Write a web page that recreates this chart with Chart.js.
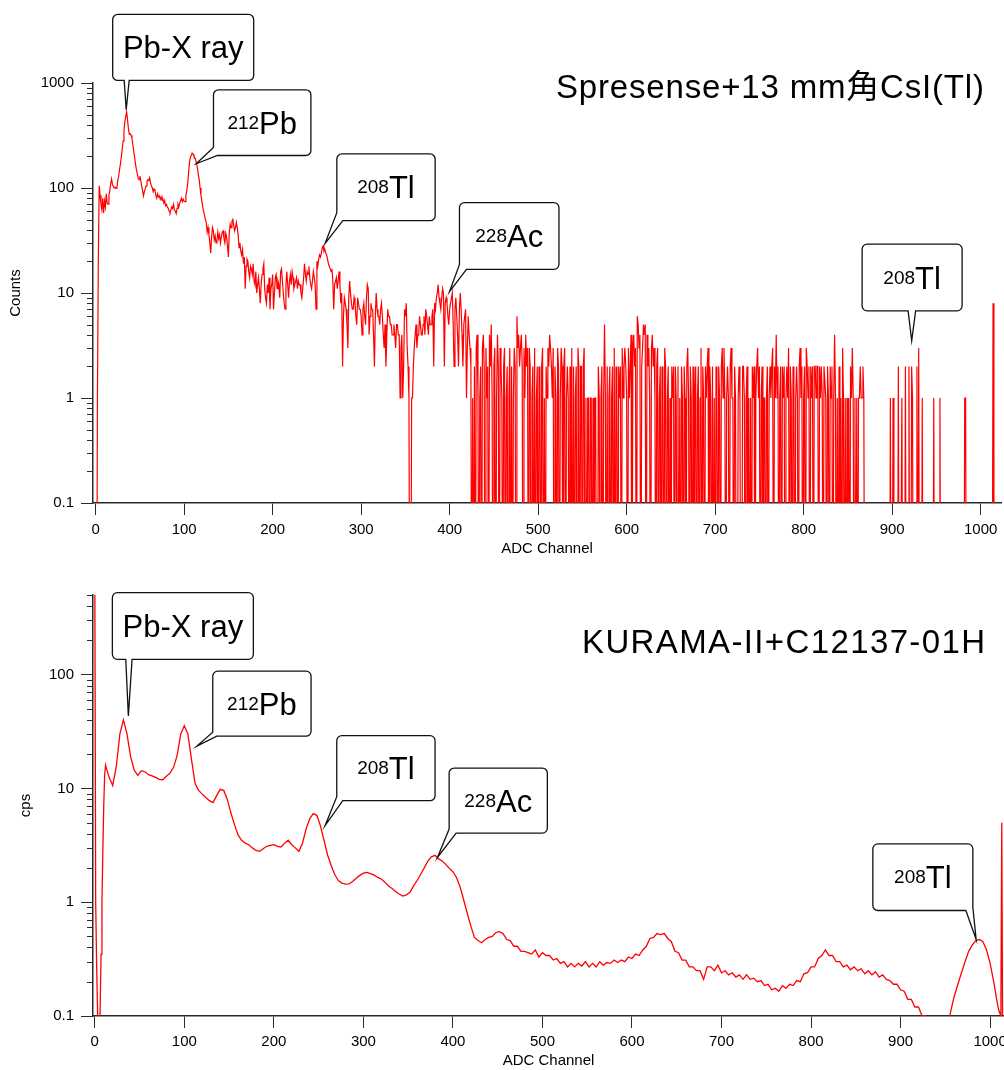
<!DOCTYPE html>
<html>
<head>
<meta charset="utf-8">
<script src="https://cdn.jsdelivr.net/npm/chart.js@4.4.0/dist/chart.umd.min.js"></script>
<style>
  body { margin: 0; background: #fff; }
  canvas { position: absolute; left: 0; }
  #spresense { top: 0; }
  #kurama { top: 560px; }
</style>
</head>
<body>
<canvas id="spresense" width="1004" height="560"></canvas>
<canvas id="kurama" width="1004" height="510"></canvas>
<script>
// Spresense + CsI(Tl): counts per ADC channel, index = channel 0..1023
const spresenseCounts = [
  0,0,1,20,105,85,70,62,80,58,
  75,66,88,72,70,85,95,110,122,108,
  104,100,102,99,101,118,130,150,170,195,
  235,280,350,430,480,530,450,370,325,330,
  318,300,260,225,195,170,150,138,125,120,
  130,118,105,95,84,92,98,105,115,120,
  118,125,112,105,100,92,98,95,85,80,
  88,82,84,78,82,76,78,72,76,68,
  70,66,64,60,58,62,66,64,70,62,
  60,57,64,70,66,72,76,80,74,78,
  75,74,85,95,110,140,175,195,205,215,
  210,200,195,185,170,155,135,120,100,85,
  75,66,60,55,50,47,38,42,36,30,
  24,34,42,39,32,35,30,31,38,33,
  36,30,34,38,39,33,30,37,34,28,
  22,38,45,42,48,50,44,39,42,47,
  42,36,27,30,25,23,26,19,22,11,
  18,21,20,16,14,18,17,15,19,13,
  12,16,10,12,14,11,8,12,15,17,
  19,11,9,8,12,10,14,7,11,12,
  15,7,10,14,15,11,13,12,9,16,
  17,13,10,8,7,12,16,12,9,13,
  15,12,16,14,11,12,13,14,11,13,
  12,12,10,9,11,14,19,15,13,16,
  15,18,14,12,11,13,16,14,12,7,
  20,18,21,23,22,24,27,28,25,26,
  24,23,21,19,18,17,16,17,13,7,
  12,13,14,11,13,16,12,8,10,2,
  6,9,8,7,5,3,9,13,10,8,
  7,7,9,8,6,5,9,8,7,7,
  6,4,7,8,6,5,9,12,11,4,
  6,8,7,7,4,2,6,10,7,6,
  6,5,7,8,6,4,3,5,2,4,
  7,6,6,5,5,4,4,5,4,3,
  5,5,4,4,1,3,4,1,2,7,
  6,8,3,2,1,0,0,1,1,2,
  3,4,5,3,4,4,6,5,4,4,
  5,6,4,7,6,5,4,6,5,5,
  6,7,2,8,7,9,10,12,9,8,
  7,9,11,10,2,8,9,8,6,5,
  7,8,9,10,5,2,7,9,6,4,
  2,7,10,7,4,2,5,6,7,1,
  3,6,4,3,2,0,1,0,2,0,
  3,4,1,0,1,2,0,3,4,2,
  0,3,1,2,0,4,2,5,1,0,
  2,3,0,1,4,2,0,3,2,1,
  0,2,3,0,1,2,0,1,3,0,
  2,0,1,3,2,0,6,3,4,2,
  3,4,2,0,3,1,4,2,3,0,
  3,2,0,1,2,0,3,0,1,2,
  0,2,1,0,2,3,0,1,0,2,
  1,3,2,4,3,2,1,3,0,2,
  1,0,3,2,0,1,3,2,0,2,
  3,0,1,2,1,0,2,0,3,0,
  2,0,1,2,0,3,2,0,2,2,
  0,2,3,0,1,0,1,1,0,1,
  1,0,1,0,1,1,0,0,2,1,
  0,1,2,0,1,5,1,0,2,0,
  1,2,0,1,2,0,3,0,2,1,
  0,2,1,2,0,3,1,2,3,2,
  1,0,3,1,2,4,0,3,4,2,
  3,0,6,5,3,4,0,2,3,5,
  4,5,0,4,2,3,1,0,3,4,
  2,3,1,0,2,3,0,1,2,0,
  2,1,0,3,2,0,1,2,0,1,
  0,2,1,2,0,2,1,0,2,0,
  1,0,2,1,0,2,1,0,2,3,
  1,0,2,1,0,2,0,1,2,0,
  1,2,0,1,3,0,2,1,0,2,
  1,2,3,0,2,1,0,2,0,1,
  0,2,1,0,2,1,0,2,3,1,
  3,1,0,1,2,1,0,2,3,1,
  1,0,2,1,0,0,1,2,1,0,
  0,2,2,1,0,1,2,0,1,0,
  1,0,2,1,2,0,1,2,3,1,
  2,0,1,2,0,1,1,0,1,2,
  0,1,2,1,2,3,0,2,1,4,
  1,2,0,1,2,0,2,1,2,0,
  1,2,1,3,0,2,1,0,2,1,
  0,1,2,1,0,2,3,1,2,0,
  1,2,0,3,2,1,2,0,2,1,
  2,0,2,2,1,2,2,0,2,1,
  2,1,0,2,2,1,0,2,1,0,
  2,1,2,0,1,4,1,0,1,0,
  2,0,1,0,3,1,0,1,0,1,
  0,1,0,2,1,3,1,0,1,0,
  1,0,1,1,2,1,1,2,1,0,
  0,0,0,0,0,0,0,0,0,0,
  0,0,0,0,0,0,0,0,0,0,
  0,0,0,0,0,0,0,0,1,0,
  0,1,0,0,0,0,0,2,0,0,
  0,1,0,0,0,2,0,0,0,2,
  0,0,2,1,0,0,0,0,2,0,
  3,0,0,0,1,0,0,0,0,0,
  0,0,0,0,0,0,0,1,0,0,
  0,0,0,0,1,0,0,0,0,0,
  0,0,0,0,0,0,0,0,0,0,
  0,0,0,0,0,0,0,0,0,0,
  0,0,1,1,0,0,0,0,0,0,
  0,0,0,0,0,0,0,0,0,0,
  0,0,0,0,0,0,0,0,0,0,
  0,0,0,0,8,0,0,0,0,0,
  0,0,0,0
];

// KURAMA-II + C12137-01H: cps read at these channels
const kuramaChannels = [
  0,1,2,3,4,5,6,7,8,9,10,11,12,
  16,20,24,28,32,36,40,44,48,52,
  56,60,64,68,72,76,80,84,88,92,
  96,100,104,108,112,116,120,124,128,132,
  136,140,144,148,152,156,160,164,168,172,
  176,180,184,188,192,196,200,204,208,212,
  216,220,224,228,232,236,240,244,248,252,
  256,260,264,268,272,276,280,284,288,292,
  296,300,304,308,312,316,320,324,328,332,
  336,340,344,348,352,356,360,364,368,372,
  376,380,384,388,392,396,400,404,408,412,
  416,420,424,428,432,436,440,444,448,452,
  456,460,464,468,472,476,480,484,488,492,
  496,500,504,508,512,516,520,524,528,532,
  536,540,544,548,552,556,560,564,568,572,
  576,580,584,588,592,596,600,604,608,612,
  616,620,624,628,632,636,640,644,648,652,
  656,660,664,668,672,676,680,684,688,692,
  696,700,704,708,712,716,720,724,728,732,
  736,740,744,748,752,756,760,764,768,772,
  776,780,784,788,792,796,800,804,808,812,
  816,820,824,828,832,836,840,844,848,852,
  856,860,864,868,872,876,880,884,888,892,
  896,900,904,908,912,916,920,924,928,932,
  936,940,944,948,952,956,960,964,968,972,
  976,980,984,988,992,996,1000,1004,1008,
  1010,1012,1013,1014,1015
];
const kuramaCps = [
  900,1.0,0.3,0.12,0.05,0.05,0.12,0.35,1.0,2.8,7,13,16,
  12.5,10.6,15.5,30,40,30,19,14.5,13,14.3,
  14,13.2,12.9,12.5,12,11.9,12.8,13.6,15.3,19.5,
  30,35.5,30,18,11,9.6,8.9,8.3,7.8,7.5,
  8.6,9.8,9.6,8,6.1,4.8,3.9,3.5,3.3,3.2,
  3.0,2.85,2.8,2.95,3.1,3.15,3.2,3.1,3.05,3.3,
  3.5,3.2,3.0,2.8,3.3,4.4,5.4,6.0,5.8,4.7,
  3.5,2.6,2.1,1.75,1.55,1.47,1.44,1.45,1.52,1.62,
  1.72,1.8,1.83,1.78,1.73,1.65,1.6,1.5,1.39,1.32,
  1.24,1.18,1.13,1.16,1.22,1.39,1.55,1.76,2.0,2.3,
  2.5,2.58,2.4,2.3,2.15,1.98,1.85,1.65,1.36,1.05,
  0.8,0.62,0.49,0.46,0.44,0.47,0.49,0.5,0.54,0.55,
  0.53,0.47,0.46,0.41,0.41,0.37,0.37,0.36,0.35,0.38,
  0.33,0.36,0.34,0.34,0.31,0.32,0.29,0.3,0.27,0.29,
  0.27,0.29,0.275,0.3,0.27,0.29,0.27,0.3,0.28,0.295,
  0.29,0.31,0.295,0.31,0.3,0.33,0.32,0.35,0.34,0.38,
  0.41,0.48,0.49,0.53,0.52,0.53,0.48,0.45,0.37,0.36,
  0.31,0.31,0.27,0.27,0.25,0.25,0.21,0.27,0.27,0.25,
  0.28,0.24,0.25,0.23,0.24,0.22,0.23,0.21,0.23,0.21,
  0.215,0.2,0.205,0.185,0.19,0.17,0.175,0.165,0.185,0.175,
  0.19,0.185,0.205,0.2,0.235,0.24,0.27,0.27,0.32,0.34,
  0.38,0.34,0.34,0.3,0.3,0.27,0.28,0.255,0.27,0.25,
  0.26,0.235,0.25,0.23,0.245,0.22,0.23,0.21,0.205,0.19,
  0.19,0.17,0.165,0.14,0.14,0.12,0.12,0.1,0.1,0.09,
  0.075,0.06,0.055,0.06,0.08,0.11,0.15,0.19,0.24,0.3,
  0.37,0.42,0.46,0.47,0.45,0.38,0.29,0.2,0.13,
  0.11,0.1,5,0.05,0.05
];

const channelTicks = [0, 100, 200, 300, 400, 500, 600, 700, 800, 900, 1000];
const countTicks = [0.1, 1, 10, 100, 1000];
const cpsTicks = [0.1, 1, 10, 100];

const FONT = "'Liberation Sans', Arial, 'Noto Sans CJK JP', sans-serif";
const AXIS = '#2a2a2a';
const RED = '#ff0000';
const ZERO = 1e-3; // empty channels drop below the log axis

// minor log ticks (2..9) on the y axis
const minorTicks = {
  id: 'minorTicks',
  afterDraw(chart) {
    const y = chart.scales.y;
    const ctx = chart.ctx;
    ctx.save();
    ctx.strokeStyle = AXIS;
    ctx.lineWidth = 1;
    for (let e = Math.floor(Math.log10(y.min)); e < Math.log10(y.max); e++) {
      for (let m = 2; m < 10; m++) {
        const v = m * Math.pow(10, e);
        if (v < y.min * 0.999 || v > y.max * 1.001) continue;
        const py = Math.round(y.getPixelForValue(v)) + 0.5;
        ctx.beginPath();
        ctx.moveTo(y.right - 6, py);
        ctx.lineTo(y.right, py);
        ctx.stroke();
      }
    }
    ctx.restore();
  }
};

// speech-bubble labels and the title text
const callouts = {
  id: 'callouts',
  afterDatasetsDraw(chart, args, opts) {
    const ctx = chart.ctx;
    const xs = chart.scales.x, ys = chart.scales.y;
    ctx.save();
    opts.items.forEach(c => {
      const tx = xs.getPixelForValue(c.at[0]);
      const ty = ys.getPixelForValue(c.at[1]);
      const L = tx + c.box[0], T = ty + c.box[1];
      const R = L + c.box[2], B = T + c.box[3], r = 5;
      const kind = c.tail[0];
      ctx.beginPath();
      ctx.moveTo(L + r, T);
      ctx.arcTo(R, T, R, B, r);
      if (kind === 'br') {
        ctx.lineTo(R, B - c.tail[1]);
        ctx.lineTo(tx, ty);
        ctx.lineTo(R - c.tail[2], B);
      } else {
        ctx.arcTo(R, B, L, B, r);
      }
      if (kind === 'b') {
        ctx.lineTo(L + c.tail[2], B);
        ctx.lineTo(tx, ty);
        ctx.lineTo(L + c.tail[1], B);
      }
      if (kind === 'bl') {
        ctx.lineTo(L + c.tail[2], B);
        ctx.lineTo(tx, ty);
        ctx.lineTo(L, B - c.tail[1]);
      } else {
        ctx.arcTo(L, B, L, T, r);
      }
      ctx.arcTo(L, T, R, T, r);
      ctx.closePath();
      ctx.fillStyle = '#fff';
      ctx.fill();
      ctx.strokeStyle = '#111';
      ctx.lineWidth = 1.3;
      ctx.stroke();

      // text: [string, isSuperscript]
      const fonts = c.text.map(p => (p[1] ? '19px ' : '31px ') + FONT);
      const widths = c.text.map((p, i) => { ctx.font = fonts[i]; return ctx.measureText(p[0]).width; });
      const total = widths.reduce((a, b) => a + b, 0);
      let x = (L + R) / 2 - total / 2;
      const base = (T + B) / 2 + 11;
      ctx.fillStyle = '#000';
      ctx.textAlign = 'left';
      ctx.textBaseline = 'alphabetic';
      c.text.forEach((p, i) => {
        ctx.font = fonts[i];
        ctx.fillText(p[0], x, p[1] ? base - 5 : base);
        x += widths[i];
      });
    });

    const t = opts.title;
    ctx.font = '33px ' + FONT;
    ctx.fillStyle = '#000';
    ctx.textAlign = 'left';
    ctx.textBaseline = 'alphabetic';
    const w = ctx.measureText(t.text).width;
    const spacing = (t.width - w) / (t.text.length - 1);
    if ('letterSpacing' in ctx) {
      ctx.letterSpacing = spacing + 'px';
      ctx.fillText(t.text, t.right - t.width, t.y);
      ctx.letterSpacing = '0px';
    } else {
      ctx.fillText(t.text, t.right - w, t.y);
    }
    ctx.restore();
  }
};

function makeOptions(cfg) {
  return {
    responsive: false,
    animation: false,
    events: [],
    layout: { padding: cfg.padding },
    plugins: {
      legend: { display: false },
      tooltip: { enabled: false },
      callouts: { items: cfg.items, title: cfg.title }
    },
    scales: {
      x: {
        type: 'linear',
        min: cfg.xMin,
        max: cfg.xMax,
        afterBuildTicks: s => { s.ticks = channelTicks.map(v => ({ value: v })); },
        afterFit: s => { s.height = cfg.xHeight; s.paddingLeft = 0; s.paddingRight = 0; },
        ticks: {
          autoSkip: false, maxRotation: 0, padding: cfg.xTickPad, color: '#000',
          font: { family: FONT, size: 15 },
          callback: v => String(v)
        },
        grid: { drawOnChartArea: false, drawTicks: true, tickLength: 12, color: AXIS, tickWidth: 1 },
        border: { display: true, color: AXIS, width: 1.5 },
        title: {
          display: true, text: 'ADC Channel', color: '#000',
          font: { family: FONT, size: 15 }, padding: { top: 0, bottom: cfg.xTitlePad }
        }
      },
      y: {
        type: 'logarithmic',
        min: 0.1,
        max: cfg.yMax,
        afterBuildTicks: s => { s.ticks = cfg.yTicks.map(v => ({ value: v })); },
        afterFit: s => { s.width = 93; },
        ticks: {
          autoSkip: false, padding: 7, color: '#000',
          font: { family: FONT, size: 15 },
          callback: v => String(v)
        },
        grid: { drawOnChartArea: false, drawTicks: true, tickLength: 12, color: AXIS, tickWidth: 1 },
        border: { display: true, color: AXIS, width: 1.5 },
        title: {
          display: true, text: cfg.yTitle, color: '#000',
          font: { family: FONT, size: 15 }, padding: { top: cfg.yTitlePad, bottom: 0 }
        }
      }
    }
  };
}

const spresensePoints = spresenseCounts.map((c, i) => ({ x: i, y: c > 0 ? c : ZERO }));
const kuramaPoints = kuramaChannels.map((ch, i) => ({ x: ch, y: kuramaCps[i] }));

new Chart(document.getElementById('spresense'), {
  type: 'line',
  data: {
    datasets: [{
      data: spresensePoints, borderColor: RED, borderWidth: 1.2,
      pointRadius: 0, tension: 0, clip: 0
    }]
  },
  options: makeOptions({
    padding: { top: 83, right: 3, bottom: 0, left: 0 },
    xMin: -3, xMax: 1023, xHeight: 57, xTickPad: 6, xTitlePad: 2,
    yMax: 1000, yTicks: countTicks, yTitle: 'Counts', yTitlePad: 7,
    title: { text: 'Spresense+13 mm角CsI(Tl)', right: 984, width: 428, y: 98 },
    items: [
      { text: [['Pb-X ray', 0]], at: [34.5, 556], box: [-13.5, -95.3, 141, 66], tail: ['b', 11.5, 16.5] },
      { text: [['212', 1], ['Pb', 0]], at: [113.6, 170], box: [17.3, -74, 97.4, 65.7], tail: ['bl', 8, 4] },
      { text: [['208', 1], ['Tl', 0]], at: [259.3, 29.7], box: [11.7, -89.4, 98.3, 66.7], tail: ['bl', 8, 6] },
      { text: [['228', 1], ['Ac', 0]], at: [399.8, 10.3], box: [10, -89, 99.5, 66.7], tail: ['bl', 5, 7] },
      { text: [['208', 1], ['Tl', 0]], at: [922.1, 3.5], box: [-49.6, -96.7, 100, 66.7], tail: ['b', 46, 53.5] }
    ]
  }),
  plugins: [minorTicks, callouts]
});

new Chart(document.getElementById('kurama'), {
  type: 'line',
  data: {
    datasets: [{
      data: kuramaPoints, borderColor: RED, borderWidth: 1.3,
      pointRadius: 0, tension: 0, clip: 0
    }]
  },
  options: makeOptions({
    padding: { top: 35, right: 0, bottom: 0, left: 0 },
    xMin: -2, xMax: 1015.5, xHeight: 54, xTickPad: 5, xTitlePad: 0,
    yMax: 500, yTicks: cpsTicks, yTitle: 'cps', yTitlePad: 17,
    title: { text: 'KURAMA-II+C12137-01H', right: 985, width: 403, y: 92.7 },
    items: [
      { text: [['Pb-X ray', 0]], at: [37.5, 43.2], box: [-16, -123.4, 141, 66.7], tail: ['b', 13.4, 19.7] },
      { text: [['212', 1], ['Pb', 0]], at: [113.9, 23.5], box: [16, -75, 98.3, 65], tail: ['bl', 4, 4] },
      { text: [['208', 1], ['Tl', 0]], at: [257.2, 4.7], box: [11.7, -90, 98.3, 65], tail: ['bl', 4, 6] },
      { text: [['228', 1], ['Ac', 0]], at: [382.7, 2.47], box: [11.7, -89.4, 98.2, 65], tail: ['bl', 4, 7] },
      { text: [['208', 1], ['Tl', 0]], at: [984.4, 0.47], box: [-103.3, -95.6, 100, 66.6], tail: ['br', 3, 7] }
    ]
  }),
  plugins: [minorTicks, callouts]
});
</script>
</body>
</html>
